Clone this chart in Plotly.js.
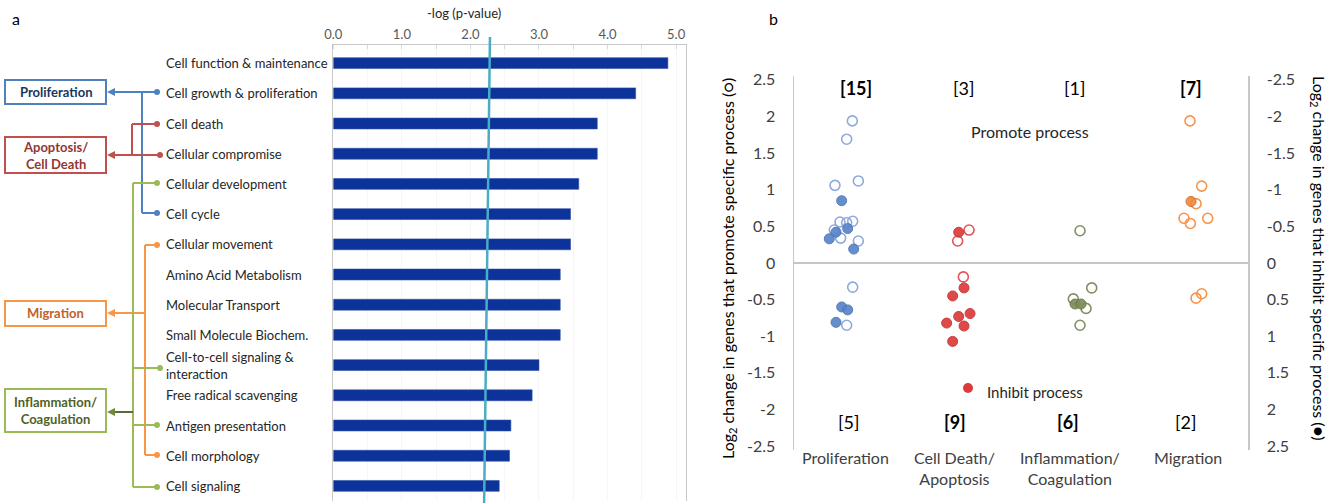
<!DOCTYPE html>
<html>
<head>
<meta charset="utf-8">
<script src="https://cdn.plot.ly/plotly-3.0.1.min.js"></script>
<style>
  html, body { margin: 0; padding: 0; background: #ffffff; }
  #chart { width: 1334px; height: 503px; }
</style>
</head>
<body>
<div id="chart"></div>
<script>
// ---------- Panel a: enriched functional categories ----------
const functionCategories = [
  "Cell function & maintenance",
  "Cell growth & proliferation",
  "Cell death",
  "Cellular compromise",
  "Cellular development",
  "Cell cycle",
  "Cellular movement",
  "Amino Acid Metabolism",
  "Molecular Transport",
  "Small Molecule Biochem.",
  "Cell-to-cell signaling &<br>interaction",
  "Free radical scavenging",
  "Antigen presentation",
  "Cell morphology",
  "Cell signaling"
];
const negLogP = [4.88, 4.41, 3.85, 3.85, 3.58, 3.46, 3.46, 3.31, 3.31, 3.31, 3.00, 2.90, 2.59, 2.57, 2.42];
const pTickVals = [0, 1, 2, 3, 4, 5];
// significance threshold line (-log p), top and bottom ends
const thresholdTop = 2.285;
const thresholdBottom = 2.20;

// ---------- Panel b: log2 changes per process ----------
const processLabels = ["Proliferation", "Cell Death/<br>Apoptosis", "Inflammation/<br>Coagulation", "Migration"];
const promoteCountsTop = ["<b>[15]</b>", "[3]", "[1]", "<b>[7]</b>"];
const inhibitCountsBottom = ["[5]", "<b>[9]</b>", "<b>[6]</b>", "[2]"];

// genes that promote a process (open circles, left axis)
const promoteProlifX = [0.514, 0.464, 0.361, 0.567, 0.405, 0.464, 0.517, 0.355, 0.411, 0.567, 0.517, 0.464];
const promoteProlifY = [1.94, 1.69, 1.06, 1.12, 0.56, 0.55, 0.57, 0.45, 0.34, 0.30, -0.33, -0.85];
const promoteDeathX = [1.542, 1.442, 1.492];
const promoteDeathY = [0.45, 0.30, -0.19];
const promoteInflamX = [2.520, 2.623, 2.461, 2.573, 2.520];
const promoteInflamY = [0.44, -0.34, -0.49, -0.62, -0.85];
const promoteMigrX = [3.592, 3.542, 3.436, 3.492, 3.645, 3.592, 3.542, 3.489];
const promoteMigrY = [1.05, 0.81, 0.61, 0.54, 0.61, -0.42, -0.48, 1.94];

// genes that inhibit a process (filled circles, right axis)
const inhibitProlifX = [0.420, 0.370, 0.311, 0.473, 0.526, 0.420, 0.473, 0.370];
const inhibitProlifY = [-0.85, -0.42, -0.33, -0.47, -0.19, 0.60, 0.64, 0.81];
const inhibitDeathX = [1.451, 1.498, 1.398, 1.551, 1.451, 1.345, 1.498, 1.398];
const inhibitDeathY = [-0.42, 0.34, 0.45, 0.69, 0.73, 0.82, 0.86, 1.07];
const inhibitInflamX = [2.476, 2.529];
const inhibitInflamY = [0.56, 0.56];
const inhibitMigrX = [3.498];
const inhibitMigrY = [-0.84];

const log2TickVals = [-2.5, -2, -1.5, -1, -0.5, 0, 0.5, 1, 1.5, 2, 2.5];
const log2TickText = ["-2.5", "-2", "-1.5", "-1", "-0.5", "0", "0.5", "1", "1.5", "2", "2.5"];

// ---------- helpers (page is laid out in pixels) ----------
const W = 1334, H = 503;
const px = x => x / W;
const py = y => 1 - y / H;
const FONT = "Lato, 'Liberation Sans', sans-serif";

const shapes = [];
const annotations = [];

function seg(x0, y0, x1, y1, color, width) {
  shapes.push({ type: "line", xref: "paper", yref: "paper",
    x0: px(x0), y0: py(y0), x1: px(x1), y1: py(y1),
    line: { color: color, width: width || 2 } });
}
function dot(x, y, color, r) {
  r = r || 3;
  shapes.push({ type: "circle", xref: "paper", yref: "paper",
    x0: px(x - r), y0: py(y + r), x1: px(x + r), y1: py(y - r),
    fillcolor: color, line: { color: color, width: 0 } });
}
function arrowLeft(x, y, color) {
  const path = "M " + px(x) + " " + py(y) + " L " + px(x + 8) + " " + py(y - 4) +
               " L " + px(x + 8) + " " + py(y + 4) + " Z";
  shapes.push({ type: "path", xref: "paper", yref: "paper", path: path,
    fillcolor: color, line: { color: color, width: 0 } });
}
function box(x0, y0, x1, y1, color) {
  shapes.push({ type: "rect", xref: "paper", yref: "paper",
    x0: px(x0), y0: py(y1), x1: px(x1), y1: py(y0),
    fillcolor: "rgba(0,0,0,0)", line: { color: color, width: 2 } });
}
function label(text, x, y, opts) {
  annotations.push(Object.assign({
    text: text, xref: "paper", yref: "paper", x: px(x), y: py(y),
    showarrow: false, xanchor: "center", yanchor: "middle",
    font: { family: FONT, size: 14, color: "#262626" }
  }, opts || {}));
}

// ---------- panel a: category text ----------
functionCategories.forEach(name => {
  annotations.push({
    text: name, xref: "paper", yref: "y", x: px(164), y: name,
    xanchor: "left", yanchor: "middle", align: "left", showarrow: false,
    font: { family: FONT, size: 13, color: "#262626" }
  });
});

// ---------- panel a: grouping tree ----------
const BLUE = "#4f81bd", RED = "#c0504d", GREEN = "#9bbb59", ORANGE = "#f79646";

// Proliferation
box(5, 80, 106, 104, BLUE);
label("<b>Proliferation</b>", 55.5, 92, { font: { family: FONT, size: 13, color: "#17375e" } });
seg(112, 92, 157, 92, BLUE);
seg(142, 92, 142, 213, BLUE);
seg(142, 213, 157, 213, BLUE);
arrowLeft(107, 92, BLUE);
dot(157, 92, BLUE); dot(157, 213, BLUE);

// Apoptosis / Cell death
box(5, 137, 106, 173, RED);
label("<b>Apoptosis/<br>Cell Death</b>", 55.5, 155, { font: { family: FONT, size: 13, color: "#943634" } });
seg(112, 155, 160, 155, RED);
seg(132, 124, 132, 155, RED);
seg(132, 124, 157, 124, RED);
arrowLeft(107, 155, RED);
dot(160, 155, RED); dot(157, 124, RED);

// Migration
box(5, 301, 106, 326, ORANGE);
label("<b>Migration</b>", 55.5, 313, { font: { family: FONT, size: 13, color: "#c0622a" } });
seg(112, 313, 145, 313, ORANGE);
seg(145, 245, 145, 455, ORANGE);
seg(145, 245, 157, 245, ORANGE);
seg(145, 455, 157, 455, ORANGE);
arrowLeft(107, 313, ORANGE);
dot(157, 245, ORANGE); dot(157, 455, ORANGE);

// Inflammation / Coagulation
box(5, 389, 106, 432, GREEN);
label("<b>Inflammation/<br>Coagulation</b>", 55.5, 410.5, { font: { family: FONT, size: 13, color: "#4f6228" } });
seg(133, 183, 133, 487, GREEN);
seg(133, 183, 157, 183, GREEN);
seg(133, 368, 160, 368, GREEN);
seg(133, 425, 157, 425, GREEN);
seg(133, 487, 157, 487, GREEN);
seg(112, 412, 133, 412, "#5a6b3a");
arrowLeft(107, 412, "#6f8a3a");
dot(157, 183, GREEN); dot(160, 368, GREEN); dot(157, 425, GREEN); dot(157, 487, GREEN);

// threshold line on the bar chart
shapes.push({ type: "line", xref: "x", yref: "paper",
  x0: thresholdTop, y0: py(37), x1: thresholdBottom, y1: py(503),
  line: { color: "#4bacc6", width: 2.5 } });

// panel letters and axis title
label("a", 16, 18, { font: { family: FONT, size: 16, color: "#000000" } });
label("b", 773, 18, { font: { family: FONT, size: 16, color: "#000000" } });
label("-log (p-value)", 464, 13, { font: { family: FONT, size: 13, color: "#262626" } });

// ---------- panel b: text ----------
const topCountX = [856, 963, 1074, 1191];
const bottomCountX = [848, 955, 1068, 1185];
const processLabelX = [845, 954, 1070, 1188];
promoteCountsTop.forEach((t, i) => label(t, topCountX[i], 88, { font: { family: FONT, size: 18, color: "#000000" } }));
inhibitCountsBottom.forEach((t, i) => label(t, bottomCountX[i], 422, { font: { family: FONT, size: 18, color: "#000000" } }));
processLabels.forEach((t, i) => label(t, processLabelX[i], 457, {
  yanchor: "top", yshift: 11, font: { family: FONT, size: 16, color: "#404040" } }));

label("Promote process", 1030, 131, { font: { family: FONT, size: 16, color: "#262626" } });
label("Inhibit process", 985, 392, { xanchor: "left", font: { family: FONT, size: 15, color: "#262626" } });
dot(968, 388, "#dc3b3b", 5);

label("Log<sub>2</sub> change in genes that promote specific process (○)", 728, 268,
  { textangle: -90, font: { family: FONT, size: 16, color: "#000000" } });
label("Log<sub>2</sub> change in genes that inhibit specific process (●)", 1319, 258,
  { textangle: 90, font: { family: FONT, size: 16, color: "#000000" } });

// ---------- traces ----------
const traces = [];
traces.push({
  type: "bar", orientation: "h", x: negLogP, y: functionCategories,
  xaxis: "x", yaxis: "y", width: 0.36,
  marker: { color: "#0c3399", line: { color: "#2f4fa8", width: 0.6 } },
  hoverinfo: "x+y", showlegend: false
});

function promoteTrace(x, y, color) {
  return { type: "scatter", mode: "markers", x: x, y: y, xaxis: "x2", yaxis: "y2",
    marker: { symbol: "circle-open", size: 10, color: color, line: { width: 1.6, color: color } },
    showlegend: false };
}
function inhibitTrace(x, y, fill, edge) {
  return { type: "scatter", mode: "markers", x: x, y: y, xaxis: "x2", yaxis: "y3",
    marker: { symbol: "circle", size: 10, color: fill, opacity: 0.92, line: { width: 1, color: edge } },
    showlegend: false };
}
traces.push(promoteTrace(promoteProlifX, promoteProlifY, "#8eaadb"));
traces.push(promoteTrace(promoteDeathX, promoteDeathY, "#e35456"));
traces.push(promoteTrace(promoteInflamX, promoteInflamY, "#7f9062"));
traces.push(promoteTrace(promoteMigrX, promoteMigrY, "#f7944a"));
traces.push(inhibitTrace(inhibitProlifX, inhibitProlifY, "#5b85c8", "#4a72b4"));
traces.push(inhibitTrace(inhibitDeathX, inhibitDeathY, "#dc3b3b", "#c53030"));
traces.push(inhibitTrace(inhibitInflamX, inhibitInflamY, "#7d8d5c", "#687a48"));
traces.push(inhibitTrace(inhibitMigrX, inhibitMigrY, "#f0883c", "#c96a2a"));

// ---------- layout ----------
const layout = {
  width: W, height: H, autosize: false,
  margin: { l: 0, r: 0, t: 0, b: 0, pad: 0 },
  paper_bgcolor: "#ffffff", plot_bgcolor: "rgba(0,0,0,0)",
  font: { family: FONT, color: "#262626" },
  showlegend: false,
  xaxis: {
    domain: [px(333.3), px(685.7)], anchor: "y", side: "top",
    range: [0, 5.14], tickvals: pTickVals, tickformat: ".1f",
    showgrid: true, gridcolor: "#f6f6f6", gridwidth: 1,
    minor: { dtick: 0.5, tick0: 0, showgrid: true, gridcolor: "#f6f6f6", ticks: "inside", ticklen: 4, tickcolor: "#d9d9d9" },
    showline: true, linecolor: "#c8c8c8", linewidth: 1,
    ticks: "", zeroline: false,
    tickfont: { family: FONT, size: 13, color: "#595959" }
  },
  yaxis: {
    domain: [py(501), py(45)], anchor: "x", type: "category",
    categoryorder: "array", categoryarray: functionCategories,
    range: [14.5, -0.6], showticklabels: false, ticks: "",
    showgrid: false, zeroline: false,
    showline: true, mirror: true, linecolor: "#c8c8c8", linewidth: 1
  },
  xaxis2: {
    domain: [px(794), px(1248)], anchor: "y2", range: [0, 4],
    showticklabels: false, showgrid: false, zeroline: false, showline: false, ticks: ""
  },
  yaxis2: {
    domain: [py(449.8), py(76.2)], anchor: "x2", range: [-2.55, 2.55],
    tickvals: log2TickVals, ticktext: log2TickText, ticks: "", ticklabelstandoff: 14,
    showgrid: false, zeroline: true, zerolinecolor: "#c8c3c8", zerolinewidth: 1.5,
    showline: true, linecolor: "#c8c8c8", linewidth: 1.5,
    tickfont: { family: FONT, size: 16, color: "#404040" }
  },
  yaxis3: {
    overlaying: "y2", anchor: "x2", side: "right", range: [2.55, -2.55],
    tickvals: log2TickVals, ticktext: log2TickText, ticks: "", ticklabelstandoff: 14,
    showgrid: false, zeroline: false,
    showline: true, linecolor: "#c8c8c8", linewidth: 1.5,
    tickfont: { family: FONT, size: 16, color: "#404040" }
  },
  shapes: shapes,
  annotations: annotations
};

Plotly.newPlot("chart", traces, layout, { displayModeBar: false, staticPlot: true });
</script>
</body>
</html>
